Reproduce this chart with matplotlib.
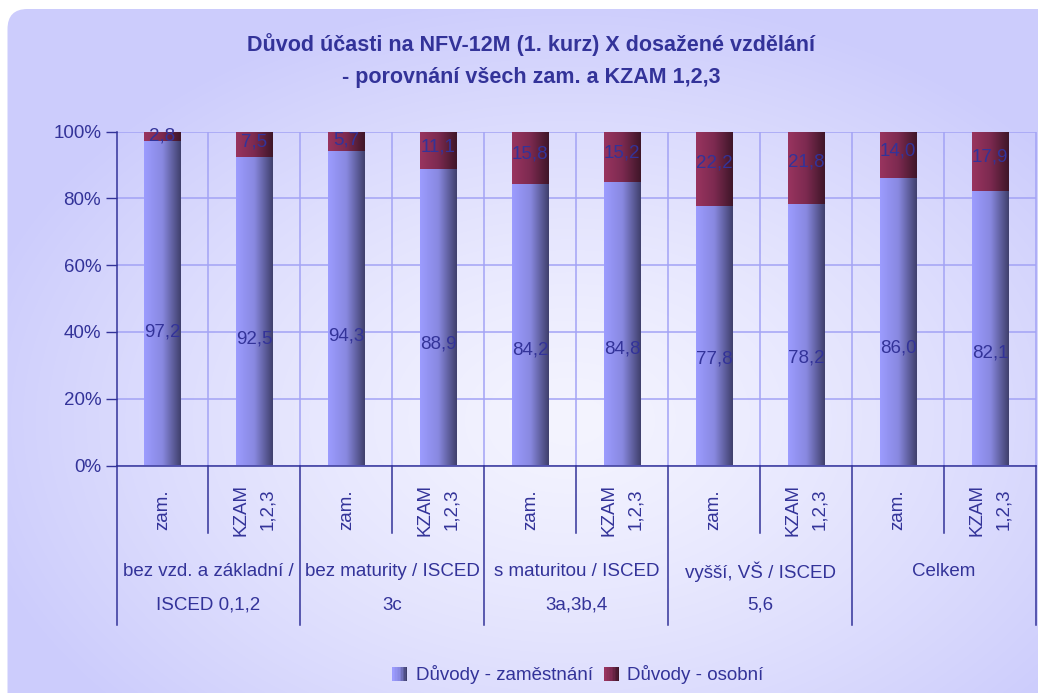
import numpy as np
import matplotlib
matplotlib.use("Agg")
import matplotlib.pyplot as plt
from matplotlib.colors import LinearSegmentedColormap
from matplotlib.patches import FancyBboxPatch, Rectangle
from matplotlib.legend_handler import HandlerBase
from matplotlib.ticker import PercentFormatter

plt.rcParams['font.family'] = ['Liberation Sans', 'DejaVu Sans']

# data
title_lines = ["Důvod účasti na NFV-12M (1. kurz) X dosažené vzdělání",
               "- porovnání všech zam. a KZAM 1,2,3"]
groups = ["bez vzd. a základní /\nISCED 0,1,2",
          "bez maturity / ISCED\n3c",
          "s maturitou / ISCED\n3a,3b,4",
          "vyšší, VŠ / ISCED\n5,6",
          "Celkem"]
subs = ["zam.", "KZAM\n1,2,3"]
zamestnani = [97.2, 92.5, 94.3, 88.9, 84.2, 84.8, 77.8, 78.2, 86.0, 82.1]
osobni = [2.8, 7.5, 5.7, 11.1, 15.8, 15.2, 22.2, 21.8, 14.0, 17.9]
series_names = ["Důvody - zaměstnání", "Důvody - osobní"]

TXT = "#333399"
GRID = "#a3a3f5"
cmap_blue = LinearSegmentedColormap.from_list("b", ["#9c9cff", "#8888e0", "#3f3f6b"])
cmap_red = LinearSegmentedColormap.from_list("r", ["#99345f", "#7c2a50", "#3e1628"])

W, H = 1038, 693
fig = plt.figure(figsize=(W / 100, H / 100), dpi=100, facecolor="white")

# background: rounded panel with radial gradient
bg = fig.add_axes([0, 0, 1, 1], zorder=-5)
bg.set_xlim(0, W)
bg.set_ylim(H, 0)
bg.axis("off")
yy, xx = np.mgrid[0:H, 0:W]
r = np.sqrt(((xx - 570) / 620.0) ** 2 + ((yy - 420) / 430.0) ** 2)
r = np.clip(r, 0, 1) ** 1.3
inner = np.array([244, 244, 255]) / 255
outer = np.array([204, 204, 252]) / 255
img = inner[None, None, :] + (outer - inner)[None, None, :] * r[..., None]
panel = FancyBboxPatch((7.5, 9), 1100, 800, boxstyle="round,pad=0,rounding_size=20",
                       facecolor="none", edgecolor="none")
bg.add_patch(panel)
im = bg.imshow(img, extent=(0, W, H, 0), aspect="auto", interpolation="bilinear")
im.set_clip_path(panel)

# main axes
ax = fig.add_axes([116.5 / W, 1 - 465.5 / H, (1036 - 116.5) / W, (465.5 - 131.7) / H])
ax.patch.set_alpha(0)

x = np.arange(len(zamestnani))
b1 = ax.bar(x, zamestnani, width=0.4, zorder=3)
b2 = ax.bar(x, osobni, width=0.4, bottom=zamestnani, zorder=3)

grad = np.linspace(0, 1, 256)[None, :]
for bars, cm in ((b1, cmap_blue), (b2, cmap_red)):
    for rect in bars:
        x0, y0 = rect.get_x(), rect.get_y()
        w, h = rect.get_width(), rect.get_height()
        ax.imshow(grad, extent=(x0, x0 + w, y0, y0 + h), cmap=cm, aspect="auto",
                  interpolation="bicubic", zorder=3)
        rect.set_visible(False)

ax.set_xlim(-0.5, len(x) - 0.5)
ax.set_ylim(0, 100)

# grid
ax.set_yticks([0, 20, 40, 60, 80, 100])
ax.yaxis.set_major_formatter(PercentFormatter(decimals=0))
ax.yaxis.grid(True, color=GRID, lw=1.1, zorder=1)
ax.vlines(np.arange(0.5, len(x), 1), 0, 100, color=GRID, lw=1.1, zorder=1, clip_on=False)
ax.set_xticks([])
ax.tick_params(axis="y", length=8, width=1, color=TXT, labelcolor=TXT,
               labelsize=13.5, pad=3)
for s in ("top", "right"):
    ax.spines[s].set_visible(False)
for s in ("left", "bottom"):
    ax.spines[s].set_color(TXT)
    ax.spines[s].set_linewidth(1.1)

# value labels
for i in x:
    ax.text(i, zamestnani[i] * 0.41, f"{zamestnani[i]:.1f}".replace(".", ","),
            ha="center", va="center", color=TXT, fontsize=13.5, zorder=5)
    ax.text(i, zamestnani[i] + osobni[i] * 0.58, f"{osobni[i]:.1f}".replace(".", ","),
            ha="center", va="center", color=TXT, fontsize=13.5, zorder=5)

# category table below the axis
tr = ax.get_xaxis_transform()
for k in range(len(groups) + 1):
    ax.plot([2 * k - 0.5] * 2, [0, -0.478], transform=tr, color=TXT, lw=1.1, clip_on=False)
for k in range(len(groups)):
    ax.plot([2 * k + 0.5] * 2, [0, -0.202], transform=tr, color=TXT, lw=1.1, clip_on=False)
for i in x:
    ax.text(i, -0.132, subs[i % 2], transform=tr, rotation=90, ha="center", va="center",
            multialignment="center", linespacing=1.75, color=TXT, fontsize=13.5)
for k, g in enumerate(groups):
    for j, line in enumerate(g.split("\n")):
        ax.text(2 * k + 0.5, -0.318 - 0.1 * j, line, transform=tr, ha="center",
                va="center", color=TXT, fontsize=13.5)

# title
for j, line in enumerate(title_lines):
    fig.text(531 / W, 1 - (45 + 33 * j) / H, line, ha="center", va="center",
             color=TXT, fontsize=15.5, fontweight="bold")


class GradHandler(HandlerBase):
    def __init__(self, cm):
        super().__init__()
        self.cm = cm

    def create_artists(self, legend, orig_handle, xdescent, ydescent, width, height,
                       fontsize, trans):
        n = 10
        return [Rectangle((-xdescent + i * width / n, -ydescent), width / n + 0.05, height,
                          facecolor=self.cm(i / (n - 1)), lw=0, transform=trans)
                for i in range(n)]


h1, h2 = Rectangle((0, 0), 1, 1), Rectangle((0, 0), 1, 1)
fig.legend([h1, h2], series_names, loc="center", bbox_to_anchor=(578 / W, 1 - 675 / H),
           ncol=2, frameon=False, fontsize=13.5, labelcolor=TXT,
           handlelength=0.8, handleheight=0.8, handletextpad=0.45, columnspacing=0.6,
           handler_map={h1: GradHandler(cmap_blue), h2: GradHandler(cmap_red)})

fig.savefig("out.png", dpi=100, facecolor="white")
